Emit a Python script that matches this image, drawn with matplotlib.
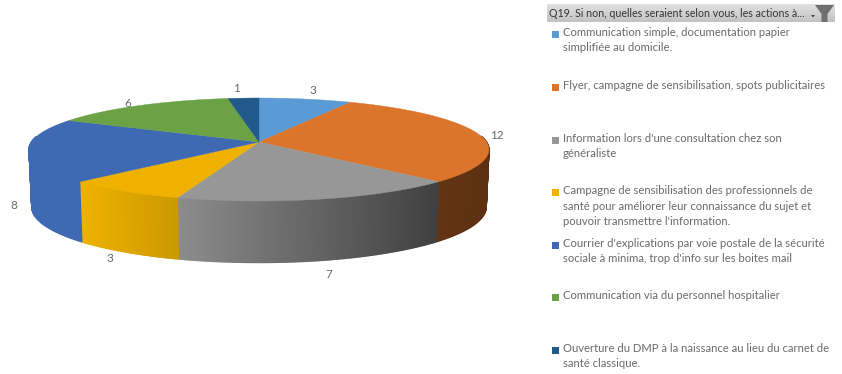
import numpy as np
import matplotlib
matplotlib.use("Agg")
import matplotlib.pyplot as plt
from matplotlib.patches import Polygon, Rectangle

plt.rcParams['font.family'] = ['Lato', 'DejaVu Sans']

# reponses a la question 19
labels = [
    "Communication simple, documentation papier\nsimplifiée au domicile.",
    "Flyer, campagne de sensibilisation, spots publicitaires",
    "Information lors d'une consultation chez son\ngénéraliste",
    "Campagne de sensibilisation des professionnels de\nsanté pour améliorer leur connaissance du sujet et\npouvoir transmettre l'information.",
    "Courrier d'explications par voie postale de la sécurité\nsociale à minima, trop d'info sur les boites mail",
    "Communication via du personnel hospitalier",
    "Ouverture du DMP à la naissance au lieu du carnet de\nsanté classique.",
]
values = [3, 12, 7, 3, 8, 6, 1]
colors = ["#5b9bd5", "#dc752c", "#979797", "#efb200", "#3f69b3", "#6aa245", "#215a8a"]
# couleurs du flanc, de gauche a droite
side_left = ["#3a6690", "#633412", "#8c8c8c", "#efb200", "#3f69b3", "#47702e", "#153a5a"]
side_right = ["#3a6690", "#5c3011", "#404040", "#cb9900", "#3f69b3", "#47702e", "#153a5a"]
legend_y = [34.5, 87.5, 140.5, 193, 245.5, 298, 350.5]

# geometrie du camembert en perspective (pixels)
cx, cy = 259, 142
a, b, k = 227.5, 50.4, 0.146
shrink = 0.988


def project(theta):
    # theta en degres, sens horaire depuis le haut
    t = np.radians(theta)
    u, v = np.sin(t), -np.cos(t)
    s = 1 / (1 - k * v)
    return cx + a * u * s, cy + b * v * s, v


def bottom(x, y, v):
    return cx + (x - cx) * shrink, y + 56.5 + 5 * v


fig = plt.figure(figsize=(8.42, 3.74), dpi=100)
ax = fig.add_axes([0, 0, 1, 1])
ax.set_xlim(0, 842)
ax.set_ylim(374, 0)
ax.axis("off")

bounds = np.cumsum([0] + values) / sum(values) * 360

# flanc visible
for i in range(len(values)):
    th = np.linspace(bounds[i], bounds[i + 1], 120)
    x, y, v = project(th)
    xb, yb = bottom(x, y, v)
    c1 = np.array(matplotlib.colors.to_rgb(side_left[i]))
    c2 = np.array(matplotlib.colors.to_rgb(side_right[i]))
    seen = v > -0.12
    x_seen = x[seen]
    if len(x_seen) == 0:
        continue
    lo, hi = x_seen.min(), x_seen.max()
    for j in range(len(th) - 1):
        if not (seen[j] and seen[j + 1]):
            continue
        f = ((x[j] + x[j + 1]) / 2 - lo) / max(hi - lo, 1)
        col = c1 + (c2 - c1) * f
        ax.add_patch(Polygon([(x[j], y[j]), (x[j + 1], y[j + 1]),
                              (xb[j + 1], yb[j + 1]), (xb[j], yb[j])],
                             closed=True, fc=col, ec=col, lw=1.0))

# dessus
for i in range(len(values)):
    th = np.linspace(bounds[i], bounds[i + 1], 120)
    x, y, v = project(th)
    pts = [(cx, cy)] + list(zip(x, y))
    ax.add_patch(Polygon(pts, closed=True, fc=colors[i], ec=colors[i], lw=0.3))

# etiquettes de valeurs
label_pos = [(313, 90), (497, 135), (329, 274), (110, 259), (14, 205), (128, 103), (237, 88)]
for val, (lx, ly) in zip(values, label_pos):
    ax.text(lx, ly, str(val), color="#6a6a6a", fontsize=8.5, ha="center", va="center")

# bandeau du filtre
band = np.linspace(0.88, 0.76, 30).reshape(-1, 1)
ax.imshow(band, extent=(547, 835, 22, 4), cmap="gray", vmin=0, vmax=1, aspect="auto", zorder=1)
ax.set_xlim(0, 842)
ax.set_ylim(374, 0)
ax.text(549, 13.5, "Q19. Si non, quelles seraient selon vous, les actions à...",
        color="#333333", fontsize=7.7, va="center", ha="left", zorder=2)
ax.add_patch(Polygon([(815, 5), (834, 5), (827.5, 14), (827.5, 22), (821.5, 22), (821.5, 14)],
                     closed=True, fc="#707070", ec="none", zorder=2))
ax.add_patch(Polygon([(811, 15), (815, 15), (813, 17.5)], closed=True, fc="#444444", ec="none", zorder=3))

# legende
for lab, col, ly in zip(labels, colors, legend_y):
    ax.add_patch(Rectangle((552, ly - 4), 7, 7, fc=col, ec="none"))
    ax.text(563, ly - 8, lab, color="#6a6a6a", fontsize=8.15, va="top", ha="left", linespacing=1.5)

fig.savefig("out.png", dpi=100)
